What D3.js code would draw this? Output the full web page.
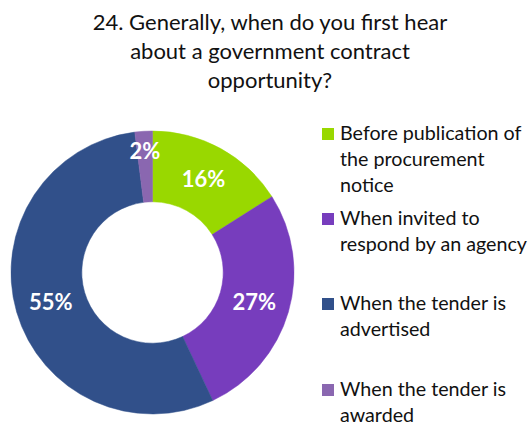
<!DOCTYPE html>
<html>
<head>
<meta charset="utf-8">
<script src="https://cdn.jsdelivr.net/npm/d3@7"></script>
<style>
  html, body { margin: 0; padding: 0; background: #fff; }
  svg { display: block; font-family: Lato, "Liberation Sans", sans-serif; }
</style>
</head>
<body>
<svg id="chart" width="529" height="425"></svg>
<script>
// Survey question 24: when respondents first hear about a contract opportunity
const titleLines = [
  "24. Generally, when do you first hear",
  "about a government contract",
  "opportunity?"
];
const categories = [
  "Before publication of the procurement notice",
  "When invited to respond by an agency",
  "When the tender is advertised",
  "When the tender is awarded"
];
const legendLines = [
  ["Before publication of", "the procurement", "notice"],
  ["When invited to", "respond by an agency"],
  ["When the tender is", "advertised"],
  ["When the tender is", "awarded"]
];
const values = [16, 27, 55, 2];
const colors = ["#99d800", "#773dbd", "#31508a", "#8a67b0"];

const svg = d3.select("#chart");

// Title
const title = svg.append("text")
  .attr("text-anchor", "middle")
  .attr("font-size", 22)
  .attr("fill", "#111");
title.selectAll("tspan")
  .data(titleLines)
  .join("tspan")
  .attr("x", 270)
  .attr("y", (d, i) => 30 + i * 29)
  .text(d => d);

// Donut
const cx = 152.5, cy = 272.5, outerR = 141.5, innerR = 70.7;
const pie = d3.pie().sort(null).value(d => d.value);
const arcs = pie(values.map((v, i) => ({ value: v, name: categories[i], color: colors[i] })));
const arc = d3.arc().innerRadius(innerR).outerRadius(outerR);

const g = svg.append("g").attr("transform", `translate(${cx},${cy})`);
g.selectAll("path")
  .data(arcs)
  .join("path")
  .attr("d", arc)
  .attr("fill", d => d.data.color)
  .attr("stroke", d => d.data.color)
  .attr("stroke-width", 0.5);

// Percentage labels, placed along the ring (the thin slice sits further out)
const labelRadius = [106, 106, 106, 121];
g.selectAll("text.pct")
  .data(arcs)
  .join("text")
  .attr("class", "pct")
  .attr("text-anchor", "middle")
  .attr("font-size", 22)
  .attr("font-weight", "bold")
  .attr("fill", "#fff")
  .attr("transform", (d, i) => {
    const a = (d.startAngle + d.endAngle) / 2;
    const r = labelRadius[i];
    return `translate(${Math.sin(a) * r},${-Math.cos(a) * r + 7.5})`;
  })
  .text(d => d.data.value + "%");

// Legend
const legendX = 322;
const legendTops = [128, 213, 298, 384];
const legend = svg.append("g");
const item = legend.selectAll("g")
  .data(categories)
  .join("g")
  .attr("transform", (d, i) => `translate(${legendX},${legendTops[i]})`);
item.append("rect")
  .attr("width", 12)
  .attr("height", 12)
  .attr("fill", (d, i) => colors[i]);
item.append("text")
  .attr("font-size", 19.7)
  .attr("fill", "#111")
  .selectAll("tspan")
  .data((d, i) => legendLines[i])
  .join("tspan")
  .attr("x", 18)
  .attr("y", (d, i) => 12 + i * 26)
  .text(d => d);
</script>
</body>
</html>
